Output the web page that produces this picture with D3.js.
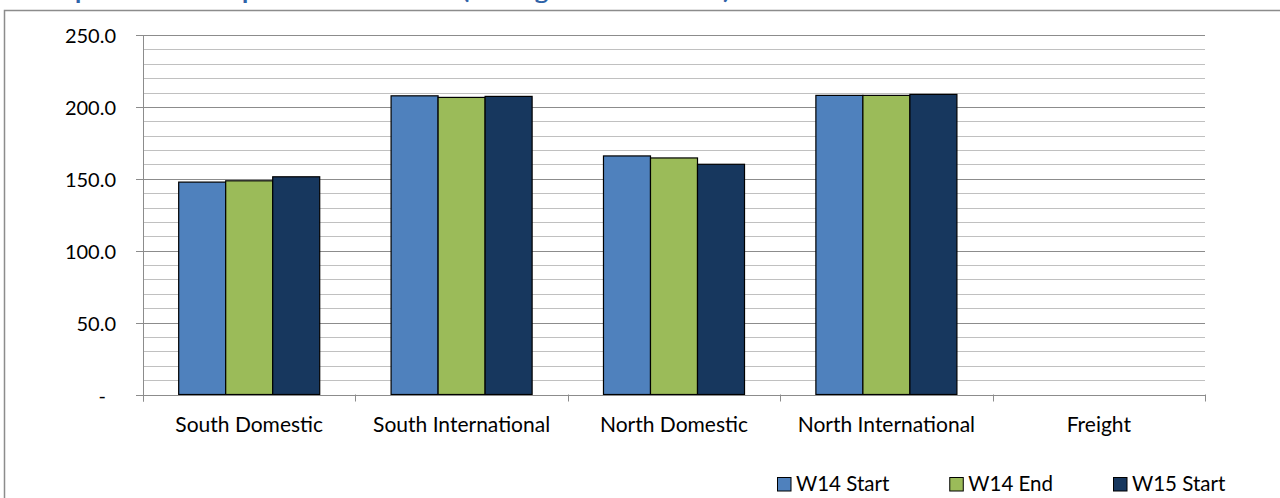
<!DOCTYPE html>
<html>
<head>
<meta charset="utf-8">
<script src="https://cdn.jsdelivr.net/npm/d3@7"></script>
<style>
  html, body { margin: 0; padding: 0; background: #fff; }
  svg { display: block; font-family: Lato, "Open Sans", sans-serif; }
</style>
</head>
<body>
<svg id="chart" width="1280" height="498"></svg>
<script>
// ---- data ----
const titleText = "Seats per Aircraft Departure at Terminal (Average Seats Offered)";
const categories = ["South Domestic", "South International", "North Domestic", "North International", "Freight"];
const seriesNames = ["W14 Start", "W14 End", "W15 Start"];
const w14Start = [147.7, 207.7, 165.9, 208.0, null];
const w14End   = [148.6, 206.6, 164.5, 208.0, null];
const w15Start = [151.4, 207.3, 160.1, 208.7, null];
const seriesColors = ["#4F81BD", "#9BBB59", "#17375E"];
const majorTicks = [0, 50, 100, 150, 200, 250];
const minorStep = 10;
const yMax = 250;

const seriesValues = [w14Start, w14End, w15Start];

const svg = d3.select("#chart");
const W = 1280, H = 498;
const plot = { left: 143, right: 1205, top: 35, bottom: 394.5 };

// title (mostly cropped above view, as in the reference)
svg.append("text")
  .attr("x", 8).attr("y", -1.5)
  .attr("fill", "#2F63A8")
  .attr("font-weight", "bold")
  .attr("font-size", 20)
  .attr("textLength", 722)
  .attr("lengthAdjust", "spacingAndGlyphs")
  .text(titleText);

// outer chart frame
svg.append("rect")
  .attr("x", 4.5).attr("y", 10.5)
  .attr("width", W + 20).attr("height", H + 20)
  .attr("fill", "none")
  .attr("stroke", "#8C8C8C").attr("stroke-width", 1.5);

const y = d3.scaleLinear().domain([0, yMax]).range([plot.bottom, plot.top]);
const x0 = d3.scaleBand().domain(categories).range([plot.left, plot.right])
  .paddingInner(0.336).paddingOuter(0.168);
const x1 = d3.scaleBand().domain(seriesNames).range([0, x0.bandwidth()]).padding(0);

// minor gridlines
const minorVals = d3.range(minorStep, yMax + 0.001, minorStep).filter(v => !majorTicks.includes(v));
svg.append("g").selectAll("line").data(minorVals).join("line")
  .attr("x1", plot.left).attr("x2", plot.right)
  .attr("y1", d => Math.round(y(d)) + 0.5).attr("y2", d => Math.round(y(d)) + 0.5)
  .attr("stroke", "#C0C0C0").attr("stroke-width", 1);

// major gridlines + y axis via d3.axisLeft
const yAxis = d3.axisLeft(y).tickValues(majorTicks)
  .tickSize(plot.right - plot.left + 7)
  .tickPadding(20)
  .tickFormat(d => d === 0 ? "-" : d3.format(".1f")(d));
const gy = svg.append("g")
  .attr("transform", `translate(${plot.right},0)`)
  .call(yAxis);
gy.select(".domain").remove();
gy.selectAll(".tick line").attr("stroke", "#8C8C8C").attr("stroke-width", 1);
gy.selectAll(".tick").attr("transform", d => `translate(0,${Math.round(y(d)) + 0.5})`);
gy.selectAll(".tick text")
  .attr("fill", "#000").attr("font-size", 20)
  .attr("font-family", "Lato, 'Open Sans', sans-serif")
  .attr("dy", "0.35em")
  .attr("dx", d => d === 0 ? -10 : 0);

// y axis line
svg.append("line")
  .attr("x1", plot.left + 0.5).attr("x2", plot.left + 0.5)
  .attr("y1", y(yMax)).attr("y2", plot.bottom + 7)
  .attr("stroke", "#8C8C8C");

// bars
const groups = svg.append("g").selectAll("g").data(categories).join("g")
  .attr("transform", d => `translate(${x0(d)},0)`);
groups.selectAll("rect")
  .data((c, i) => seriesNames.map((s, j) => ({ s, j, v: seriesValues[j][i] })).filter(d => d.v != null))
  .join("rect")
  .attr("x", d => x1(d.s))
  .attr("y", d => y(d.v))
  .attr("width", x1.bandwidth())
  .attr("height", d => y(0) - y(d.v))
  .attr("fill", d => seriesColors[d.j])
  .attr("stroke", "#000").attr("stroke-width", 1.2);

// x axis
const xTicks = d3.range(categories.length + 1).map(i => plot.left + i * x0.step());
svg.append("line")
  .attr("x1", plot.left - 7).attr("x2", plot.right)
  .attr("y1", Math.round(y(0)) + 0.5).attr("y2", Math.round(y(0)) + 0.5)
  .attr("stroke", "#8C8C8C");
svg.append("g").selectAll("line").data(xTicks).join("line")
  .attr("x1", d => Math.round(d) + 0.5).attr("x2", d => Math.round(d) + 0.5)
  .attr("y1", y(0)).attr("y2", y(0) + 7)
  .attr("stroke", "#8C8C8C");
svg.append("g").selectAll("text").data(categories).join("text")
  .attr("x", d => x0(d) + x0.bandwidth() / 2)
  .attr("y", 432)
  .attr("text-anchor", "middle")
  .attr("font-size", 21)
  .attr("fill", "#000")
  .text(d => d);

// legend
const legend = svg.append("g");
let lx = 777;
seriesNames.forEach((s, i) => {
  legend.append("rect")
    .attr("x", lx + 0.5).attr("y", 477.5).attr("width", 13.5).attr("height", 13.5)
    .attr("fill", seriesColors[i]).attr("stroke", "#000").attr("stroke-width", 1);
  const t = legend.append("text")
    .attr("x", lx + 19).attr("y", 491)
    .attr("font-size", 20.5).attr("fill", "#000")
    .text(s);
  lx = lx + 19 + t.node().getComputedTextLength() + 60;
});
</script>
</body>
</html>
